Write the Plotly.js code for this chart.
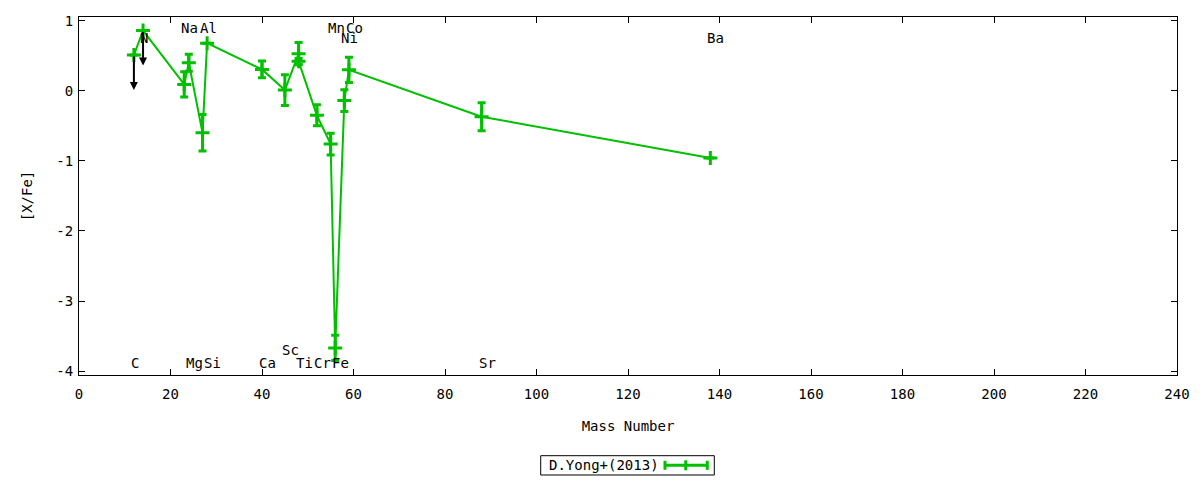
<!DOCTYPE html>
<html><head><meta charset="utf-8">
<script src="https://cdn.plot.ly/plotly-3.0.1.min.js"></script>
<style>html,body{margin:0;padding:0;background:#fff}#chart{width:1200px;height:480px}</style>
</head><body><div id="chart"></div>
<script>
// Measured abundances (D.Yong+ 2013)
const massNumbers = [12, 14, 23, 24, 27, 28, 40, 45, 48, 48, 52, 55, 56, 58, 59, 88, 138];
const abundances  = [0.51, 0.86, 0.09, 0.40, -0.60, 0.68, 0.305, 0.01, 0.53, 0.42, -0.35, -0.76, -3.67, -0.14, 0.30, -0.37, -0.96];
const errors      = [0, 0, 0.18, 0.12, 0.26, 0, 0.12, 0.22, 0.16, 0.04, 0.15, 0.155, 0.18, 0.155, 0.18, 0.20, 0];

// Upper limits (C, N)
const upperLimitMass  = [12, 14];
const upperLimitValue = [0.51, 0.86];
const upperLimitDrop  = 0.5;

// Element labels
const labelNames = ['C','N','Na','Mg','Al','Si','Ca','Sc','Ti','Cr','Mn','Fe','Ni','Co','Sr','Ba'];
const labelMass  = [12, 14, 23, 24, 27, 28, 40, 45, 48, 52, 55, 56, 58, 59, 88, 138];
const labelY     = [-3.89, 0.76, 0.9, -3.89, 0.9, -3.89, -3.89, -3.70, -3.89, -3.89, 0.9, -3.89, 0.76, 0.9, -3.89, 0.76];

// Tick labels
const xTicks = [0, 20, 40, 60, 80, 100, 120, 140, 160, 180, 200, 220, 240];
const yTicks = [-4, -3, -2, -1, 0, 1];
const yTickText = ['-4', '-3', '-2', '-1', '0', '1'];

const seriesName = 'D.Yong+(2013)';
const green = '#00c000';
const FONT = 'DejaVu Sans Mono, monospace';
const FS = 14;

const trace = {
  x: massNumbers, y: abundances, type: 'scatter', mode: 'lines+markers',
  name: seriesName, showlegend: false,
  line: {color: green, width: 2},
  marker: {symbol: 'cross-thin', size: 10, color: green, line: {color: green, width: 3}},
  error_y: {type: 'data', array: errors, visible: true, color: green, thickness: 3, width: 4}
};

const annotations = [];
labelNames.forEach((n, i) => {
  annotations.push({x: labelMass[i], y: labelY[i], xref: 'x', yref: 'y', text: n,
    showarrow: false, xanchor: 'left', yanchor: 'middle', xshift: -5,
    font: {family: FONT, size: FS, color: '#000'}});
});
upperLimitMass.forEach((m, i) => {
  annotations.push({x: m, y: upperLimitValue[i] - upperLimitDrop, xref: 'x', yref: 'y',
    ax: m, ay: upperLimitValue[i], axref: 'x', ayref: 'y', text: '',
    showarrow: true, arrowhead: 2, arrowsize: 0.8, arrowwidth: 2, arrowcolor: '#000', standoff: 0, startstandoff: 0});
});
// custom legend (text left, sample right, as in original)
const lx0 = 0.4205, lx1 = 0.5786, ly0 = -0.2793, ly1 = -0.2254, lyc = -0.2522;
annotations.push({x: 0.4781, y: lyc, xref: 'paper', yref: 'paper', text: seriesName, showarrow: false,
  xanchor: 'center', yanchor: 'middle', font: {family: FONT, size: FS, color: '#000'}});

const shapes = [
  {type: 'rect', xref: 'paper', yref: 'paper', x0: lx0, x1: lx1, y0: ly0, y1: ly1, line: {color: '#000', width: 1}},
  {type: 'line', xref: 'paper', yref: 'paper', x0: 0.5337, x1: 0.5722, y0: lyc, y1: lyc, line: {color: green, width: 3}},
  {type: 'line', xref: 'paper', yref: 'paper', x0: 0.5337, x1: 0.5337, y0: lyc - 0.0126, y1: lyc + 0.0126, line: {color: green, width: 3}},
  {type: 'line', xref: 'paper', yref: 'paper', x0: 0.5722, x1: 0.5722, y0: lyc - 0.0126, y1: lyc + 0.0126, line: {color: green, width: 3}},
  {type: 'line', xref: 'paper', yref: 'paper', x0: 0.5526, x1: 0.5526, y0: lyc - 0.014, y1: lyc + 0.014, line: {color: green, width: 3}}
];

const layout = {
  width: 1200, height: 480,
  margin: {l: 79, r: 23, t: 17, b: 105},
  paper_bgcolor: '#fff', plot_bgcolor: '#fff',
  font: {family: FONT, size: FS, color: '#000'},
  showlegend: false,
  xaxis: {
    range: [0, 240], tickmode: 'array', tickvals: xTicks,
    ticks: 'inside', ticklen: 6, tickwidth: 1, tickcolor: '#000',
    showline: true, linecolor: '#000', linewidth: 1, mirror: 'ticks',
    showgrid: false, zeroline: false, ticklabelstandoff: 6,
    tickfont: {family: FONT, size: FS, color: '#000'},
    title: {text: 'Mass Number', font: {family: FONT, size: FS, color: '#000'}, standoff: 20}
  },
  yaxis: {
    range: [-4.056, 1.053], tickmode: 'array', tickvals: yTicks, ticktext: yTickText,
    ticks: 'inside', ticklen: 6, tickwidth: 1, tickcolor: '#000',
    showline: true, linecolor: '#000', linewidth: 1, mirror: 'ticks',
    showgrid: false, zeroline: false, ticklabelstandoff: 2,
    tickfont: {family: FONT, size: FS, color: '#000'},
    title: {text: '[X/Fe]', font: {family: FONT, size: FS, color: '#000'}, standoff: 20}
  },
  annotations: annotations,
  shapes: shapes
};

Plotly.newPlot('chart', [trace], layout, {displayModeBar: false, staticPlot: true});
</script>
</body></html>
